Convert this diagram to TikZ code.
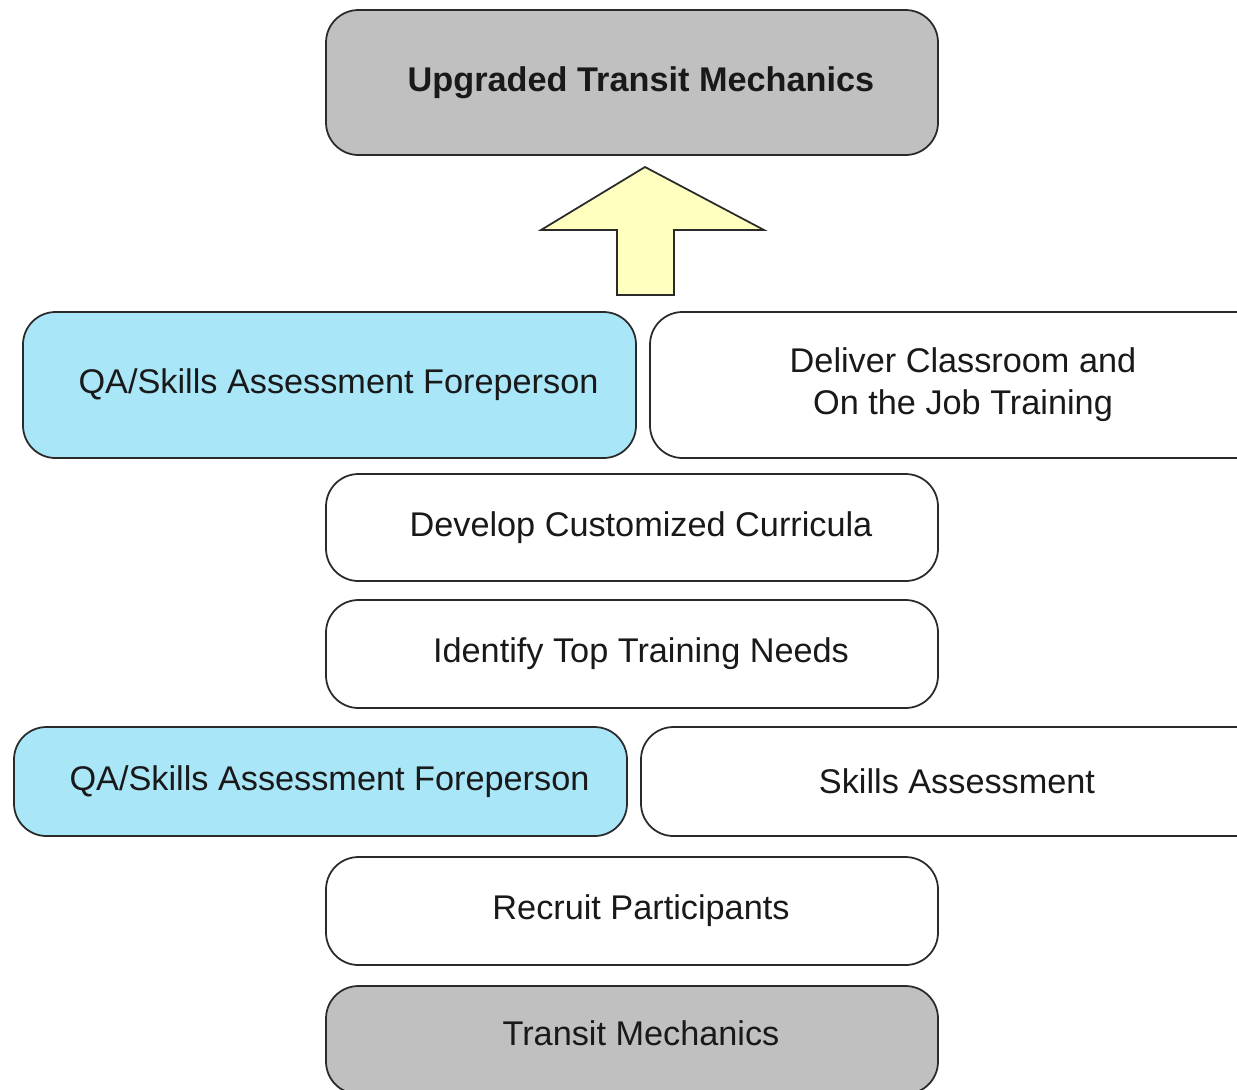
\documentclass[tikz,border=0pt]{standalone}
\usepackage{fontspec}
\setmainfont{Liberation Sans}
\definecolor{boxgray}{HTML}{C0C0C0}
\definecolor{boxblue}{HTML}{A8E6F8}
\definecolor{arrowyellow}{HTML}{FFFFC0}
\definecolor{linegray}{HTML}{2A2A2A}
\begin{document}
\begin{tikzpicture}[
        stage/.style={draw=linegray, line width=1pt, rounded corners=0.65cm, fill=white,
            minimum width=12.24cm, minimum height=2.16cm, align=center,
            font=\fontsize{19.5}{24}\selectfont, text=black!90},
        offset/.style={execute at begin node={\hspace*{0.36cm}}},
        actor/.style={stage, offset, fill=boxblue, minimum width=12.26cm},
        goal/.style={stage, offset, fill=boxgray}
    ]
        \useasboundingbox (0, 0) rectangle (24.74, -21.78);

        \node[goal, minimum height=2.9cm, font=\fontsize{19.5}{24}\selectfont\bfseries] (upgraded) at (12.64, -1.65) {Upgraded Transit Mechanics};

        \draw[line width=1pt, draw=linegray, fill=arrowyellow, line join=miter]
            (12.9, -3.34) -- (15.28, -4.6) -- (13.48, -4.6) -- (13.48, -5.9)
            -- (12.34, -5.9) -- (12.34, -4.6) -- (10.82, -4.6) -- cycle;

        \node[actor, minimum height=2.92cm] (foreperson top) at (6.59, -7.7) {QA/Skills Assessment Foreperson};
        \node[stage, minimum height=2.92cm, minimum width=12.52cm] (deliver) at (19.26, -7.7) {Deliver Classroom and\\On the Job Training};

        \node[stage, offset, minimum height=2.14cm] (develop) at (12.64, -10.55) {Develop Customized Curricula};
        \node[stage, offset] (identify) at (12.64, -13.08) {Identify Top Training Needs};

        \node[actor, minimum height=2.18cm] (foreperson low) at (6.41, -15.63) {QA/Skills Assessment Foreperson};
        \node[stage, minimum height=2.18cm, minimum width=12.64cm] (skills) at (19.14, -15.63) {Skills Assessment};

        \node[stage, offset] (recruit) at (12.64, -18.22) {Recruit Participants};
        \node[goal, text depth=0.28cm] (mechanics) at (12.64, -20.8) {Transit Mechanics};
    \end{tikzpicture}
\end{document}
